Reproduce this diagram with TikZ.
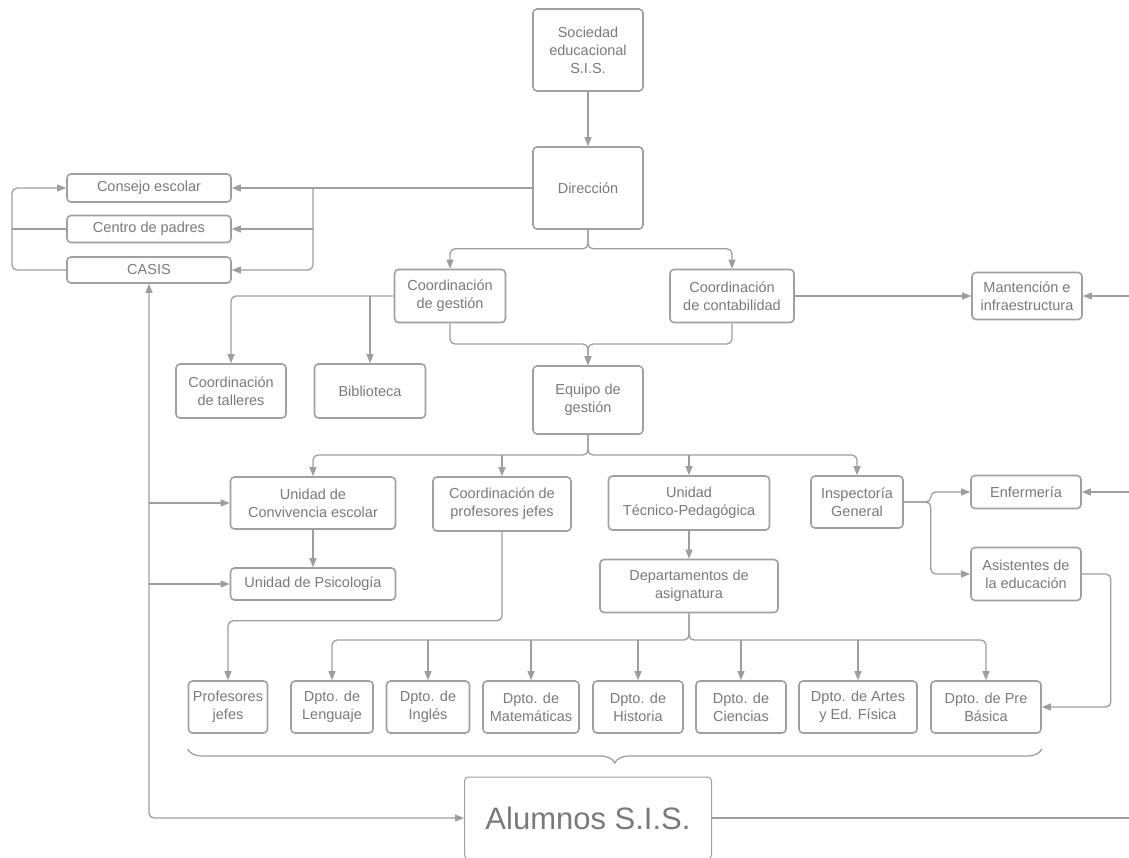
\documentclass[tikz,border=0pt]{standalone}
\usepackage{fontspec}
\setmainfont{Liberation Sans}
\usetikzlibrary{arrows.meta, positioning, decorations.pathreplacing}
\definecolor{LineGray}{HTML}{9E9E9E}
\definecolor{BoxGray}{HTML}{A0A0A0}
\definecolor{TextGray}{HTML}{7A7A7A}

\begin{document}
\begin{tikzpicture}[
    x=1pt, y=-1pt,
    >={Triangle[length=9pt, width=7pt]},
    unit/.style = {rectangle, draw=BoxGray, fill=white, rounded corners=4pt, line width=1.6pt, text=TextGray, align=center, inner sep=2pt, font=\fontsize{14.5}{18}\selectfont},
    dims/.style 2 args = {minimum width=#1pt, minimum height=#2pt},
    arrow/.style = {draw=LineGray, ->, line width=1.3pt, rounded corners=5pt},
    link/.style = {draw=LineGray, line width=1.3pt, rounded corners=5pt}
]
\useasboundingbox (0,0) rectangle (1129,857);

% top of the chart
\node[unit, dims={110}{82}] (soc) at (588,50) {Sociedad\\educacional\\S.I.S.};
\node[unit, dims={110}{82}] (dir) at (588,188) {Dirección};
\node[unit, dims={164}{28}] (consejo) at (149,188) {Consejo escolar};
\node[unit, dims={164}{27}] (centro) at (149,229) {Centro de padres};
\node[unit, dims={164}{26}] (casis) at (149,270) {CASIS};

% coordinations
\node[unit, dims={111}{53}] (cgest) at (450,296) {Coordinación\\de gestión};
\node[unit, dims={124}{53}] (ccont) at (732,296) {Coordinación\\de contabilidad};
\node[unit, dims={110}{47}] (mant) at (1027,296) {Mantención e\\infraestructura};
\node[unit, dims={110}{54}] (talleres) at (231,391) {Coordinación\\de talleres};
\node[unit, dims={111}{54}] (biblio) at (370,391) {Biblioteca};
\node[unit, dims={110}{68}] (equipo) at (588,400) {Equipo de\\gestión};

% units
\node[unit, dims={165}{52}] (conv) at (313,503) {Unidad de\\Convivencia escolar};
\node[unit, dims={138}{54}] (cprof) at (502,504) {Coordinación de\\profesores jefes};
\node[unit, dims={161}{54}] (utp) at (689,503) {Unidad\\Técnico-Pedagógica};
\node[unit, dims={92}{52}] (insp) at (857,502) {Inspectoría\\General};
\node[unit, dims={165}{32}] (psico) at (313,584) {Unidad de Psicología};
\node[unit, dims={178}{53}] (deptos) at (689,586) {Departamentos de\\asignatura};
\node[unit, dims={110}{33}] (enf) at (1026,492) {Enfermería};
\node[unit, dims={110}{53}] (asist) at (1026,574) {Asistentes de\\la educación};

% departments
\node[unit, dims={79}{52}] (profj) at (228,707) {Profesores\\jefes};
\node[unit, dims={82}{52}] (leng) at (332,707) {Dpto. de\\Lenguaje};
\node[unit, dims={83}{52}] (ingl) at (428,707) {Dpto. de\\Inglés};
\node[unit, dims={96}{52}] (mat) at (531,707) {Dpto. de\\Matemáticas};
\node[unit, dims={90}{52}] (hist) at (638,707) {Dpto. de\\Historia};
\node[unit, dims={90}{52}] (cien) at (741,707) {Dpto. de\\Ciencias};
\node[unit, dims={118}{52}] (artes) at (858,707) {Dpto. de Artes\\y Ed. Física};
\node[unit, dims={110}{52}] (pre) at (986,707) {Dpto. de Pre\\Básica};

\node[unit, dims={247}{82}, line width=1pt, font=\fontsize{31}{36}\selectfont] (alumnos) at (588,818) {Alumnos S.I.S.};

\coordinate (dirsplit) at (313,188);
\coordinate (loopx) at (12,229);
\coordinate (eqjoin) at (588,344);
\coordinate (mantin) at (1129,296);
\coordinate (enfin) at (1129,492);
\coordinate (alumout) at (1129,818);
\coordinate (deptbus) at (689,640);
\coordinate (unitbus) at (588,455);

% connectors
\draw[arrow] (soc) -- (dir);
\draw[arrow] (dir.west) -- (consejo.east);
\draw[arrow] (dirsplit) |- (casis.east);
\draw[arrow] (dirsplit |- centro.east) -- (centro.east);
\draw[arrow] (casis.west) -| (loopx) |- (consejo.west);
\draw[link] (centro.west) -- (loopx);

\draw[arrow] (dir.south) -- ++(0,19) -| (cgest.north);
\draw[arrow] (dir.south) -- ++(0,19) -| (ccont.north);
\draw[arrow] (ccont.east) -- (mant.west);
\draw[arrow] (mantin) -- (mant.east);
\draw[arrow] (cgest.west) -| (talleres.north);
\draw[arrow] (biblio.north |- cgest.west) -- (biblio.north);
\draw[arrow] (cgest.south) |- (eqjoin) -- (equipo.north);
\draw[arrow] (ccont.south) |- (eqjoin) -- (equipo.north);

\draw[arrow] (equipo.south) |- (unitbus) -| (conv.north);
\draw[arrow] (equipo.south) |- (unitbus) -| (insp.north);
\draw[arrow] (cprof.north |- unitbus) -- (cprof.north);
\draw[arrow] (utp.north |- unitbus) -- (utp.north);
\draw[arrow] (conv) -- (psico);
\draw[arrow] (utp) -- (deptos);
\draw[arrow] (cprof.south) -- ++(0,89) -| (profj.north);

\draw[arrow] (insp.east) -- ++(27,0) |- (enf.west);
\draw[arrow] (insp.east) -- ++(27,0) |- (asist.west);
\draw[arrow] (enfin) -- (enf.east);
\draw[arrow] (asist.east) -- ++(29,0) |- (pre.east);

\draw[arrow] (deptos.south) |- (deptbus) -| (leng.north);
\draw[arrow] (deptos.south) |- (deptbus) -| (pre.north);
\foreach \d in {ingl, mat, hist, cien, artes}
    \draw[arrow] (\d.north |- deptbus) -- (\d.north);

\draw[draw=LineGray, line width=1.3pt, decorate, decoration={brace, mirror, amplitude=14pt}] (profj.south west |- 0,749) -- (pre.south east |- 0,749);

\draw[arrow, <->] (casis.south) |- (alumnos.west);
\draw[arrow] (casis.south |- conv.west) -- (conv.west);
\draw[arrow] (casis.south |- psico.west) -- (psico.west);
\draw[link] (alumnos.east) -- (alumout);
\end{tikzpicture}
\end{document}
